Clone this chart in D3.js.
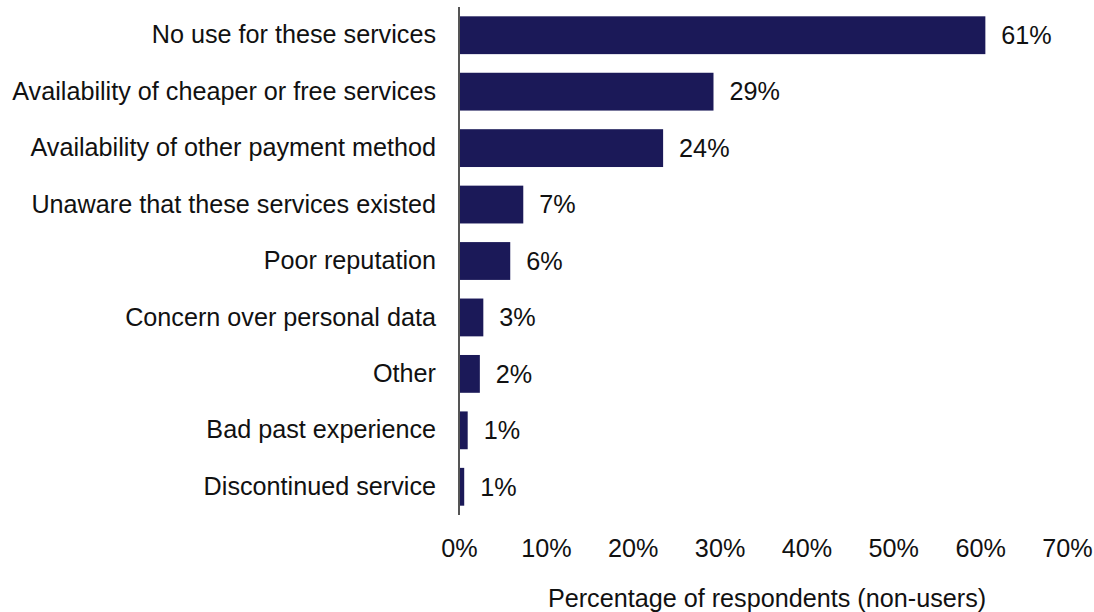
<!DOCTYPE html>
<html>
<head>
<meta charset="utf-8">
<script src="https://cdn.jsdelivr.net/npm/d3@7"></script>
<style>
  html, body { margin: 0; padding: 0; background: #fff; }
  svg text { font-family: "Liberation Sans", Arial, sans-serif; fill: #111; }
</style>
</head>
<body>
<svg id="chart" width="1094" height="612"></svg>
<script>
// Reasons given by non-users, share of respondents (%)
const categories = [
  "No use for these services",
  "Availability of cheaper or free services",
  "Availability of other payment method",
  "Unaware that these services existed",
  "Poor reputation",
  "Concern over personal data",
  "Other",
  "Bad past experience",
  "Discontinued service"
];
const values = [60.6, 29.3, 23.5, 7.4, 5.9, 2.8, 2.4, 1.0, 0.6];
const xTicks = [0, 10, 20, 30, 40, 50, 60, 70];
const xTitle = "Percentage of respondents (non-users)";

const svg = d3.select("#chart");
const margin = { left: 459, right: 27, top: 7, bottom: 97 };
const W = 1094, H = 612;
const FS = 25.2;

const x = d3.scaleLinear().domain([0, 70]).range([margin.left, W - margin.right]);
const y = d3.scaleBand().domain(categories)
  .range([margin.top, H - margin.bottom])
  .paddingInner(0.33).paddingOuter(0.165);

// bars
svg.append("g").selectAll("rect")
  .data(categories)
  .join("rect")
  .attr("x", x(0))
  .attr("y", d => y(d))
  .attr("width", (d, i) => x(values[i]) - x(0))
  .attr("height", y.bandwidth())
  .attr("fill", "#1b1958");

// value labels
const fmt = v => d3.format(".0f")(v) + "%";
svg.append("g").selectAll("text")
  .data(categories)
  .join("text")
  .attr("x", (d, i) => x(values[i]) + 16)
  .attr("y", d => y(d) + y.bandwidth() / 2)
  .attr("dy", "0.35em")
  .attr("font-size", FS)
  .text((d, i) => fmt(values[i]));

// category axis
const yAxis = svg.append("g")
  .attr("transform", `translate(${x(0)},0)`)
  .call(d3.axisLeft(y).tickSize(0).tickPadding(23));
yAxis.select(".domain").attr("stroke", "#555").attr("stroke-width", 2)
  .attr("d", `M0,${margin.top}V${H - margin.bottom}`);
yAxis.selectAll("text").attr("font-size", FS).attr("fill", "#111");

// value axis (labels only)
const xAxis = svg.append("g")
  .attr("transform", `translate(0,${H - margin.bottom})`)
  .call(d3.axisBottom(x).tickValues(xTicks).tickSize(0).tickPadding(24)
    .tickFormat(d => d + "%"));
xAxis.select(".domain").remove();
xAxis.selectAll("text").attr("font-size", FS).attr("fill", "#111");

svg.append("text")
  .attr("x", (x(0) + x(70)) / 2 + 4)
  .attr("y", 607)
  .attr("text-anchor", "middle")
  .attr("font-size", FS)
  .text(xTitle);
</script>
</body>
</html>
